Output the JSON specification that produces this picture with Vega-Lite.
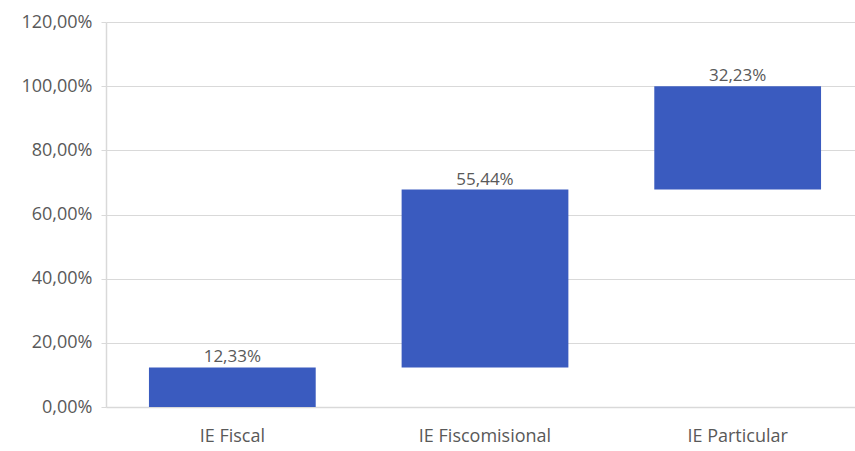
{
  "$schema": "https://vega.github.io/schema/vega-lite/v6.json",
  "autosize": "none",
  "width": 758,
  "height": 385,
  "padding": {"left": 106, "top": 22, "right": 0, "bottom": 44},
  "background": "#ffffff",
  "config": {
    "locale": {"number": {"decimal": ",", "thousands": ".", "grouping": [3], "currency": ["$", ""]}},
    "view": {"stroke": null},
    "font": "Open Sans"
  },
  "data": {
    "values": [
      {"categoria": "IE Fiscal", "inicio": 0, "fin": 0.1233, "valor": 0.1233},
      {"categoria": "IE Fiscomisional", "inicio": 0.1233, "fin": 0.6777, "valor": 0.5544},
      {"categoria": "IE Particular", "inicio": 0.6777, "fin": 1.0, "valor": 0.3223}
    ]
  },
  "encoding": {
    "x": {
      "field": "categoria", "type": "nominal", "sort": null,
      "scale": {"paddingInner": 0.34, "paddingOuter": 0.17},
      "axis": {"title": null, "labelAngle": 0, "labelColor": "#595959", "labelFontSize": 18, "labelPadding": 20, "ticks": false, "domainColor": "#d9d9d9", "domainWidth": 1.5}
    }
  },
  "layer": [
    {
      "mark": {"type": "bar", "color": "#3a5bbf"},
      "encoding": {
        "y": {
          "field": "inicio", "type": "quantitative",
          "scale": {"domain": [0, 1.2], "nice": false},
          "axis": {"title": null, "format": ".2%", "values": [0, 0.2, 0.4, 0.6, 0.8, 1.0, 1.2], "labelColor": "#595959", "labelFontSize": 18, "labelPadding": 9, "tickSize": 5, "tickColor": "#d9d9d9", "domain": true, "domainColor": "#d9d9d9", "domainWidth": 1.5, "gridColor": "#d9d9d9", "gridWidth": 1}
        },
        "y2": {"field": "fin"}
      }
    },
    {
      "mark": {"type": "text", "baseline": "bottom", "dy": -1, "fontSize": 17, "color": "#595959"},
      "encoding": {
        "y": {"field": "fin", "type": "quantitative"},
        "text": {"field": "valor", "type": "quantitative", "format": ".2%"}
      }
    }
  ]
}
